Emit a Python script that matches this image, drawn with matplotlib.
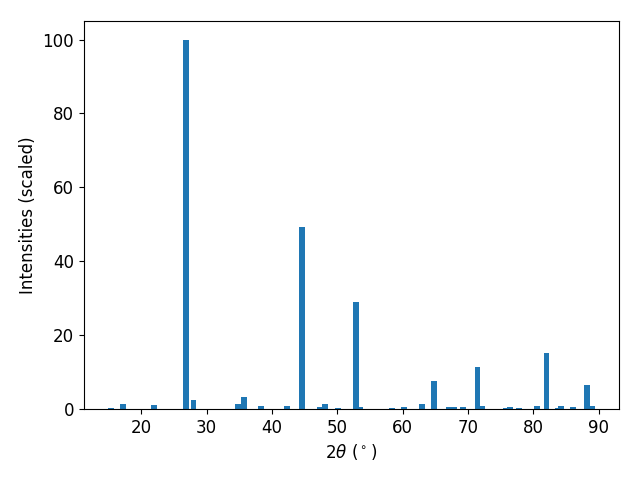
import matplotlib
matplotlib.use("Agg")
import matplotlib.pyplot as plt
import numpy as np

# peak positions (2theta, degrees) and scaled intensities
two_theta = np.array([
    15.4, 17.2, 21.9, 26.85, 28.0, 34.8, 35.75, 38.3, 42.3, 44.6,
    47.3, 48.1, 50.1, 52.8, 53.5, 58.3, 60.2, 62.9, 64.75, 67.1,
    67.8, 69.2, 71.45, 72.2, 75.8, 76.4, 77.8, 80.5, 82.0, 83.7,
    84.15, 86.1, 88.25, 88.9,
])
intensities = np.array([
    0.3, 1.4, 1.1, 100.0, 2.4, 1.4, 3.3, 0.8, 0.8, 49.3,
    0.6, 1.4, 0.3, 29.0, 0.6, 0.3, 0.6, 1.4, 7.6, 0.6,
    0.6, 0.6, 11.4, 0.8, 0.3, 0.6, 0.3, 0.8, 15.2, 0.3,
    0.8, 0.6, 6.5, 0.8,
])

plt.rcParams["font.size"] = 12

fig, ax = plt.subplots(figsize=(6.4, 4.8), dpi=100)
ax.bar(two_theta, intensities, width=0.9, color="#1f77b4")
ax.set_xlabel(r"2$\theta$ ($^\circ$)")
ax.set_ylabel("Intensities (scaled)")
fig.subplots_adjust(left=0.131, right=0.967, top=0.956, bottom=0.148)
fig.savefig("out.png")
